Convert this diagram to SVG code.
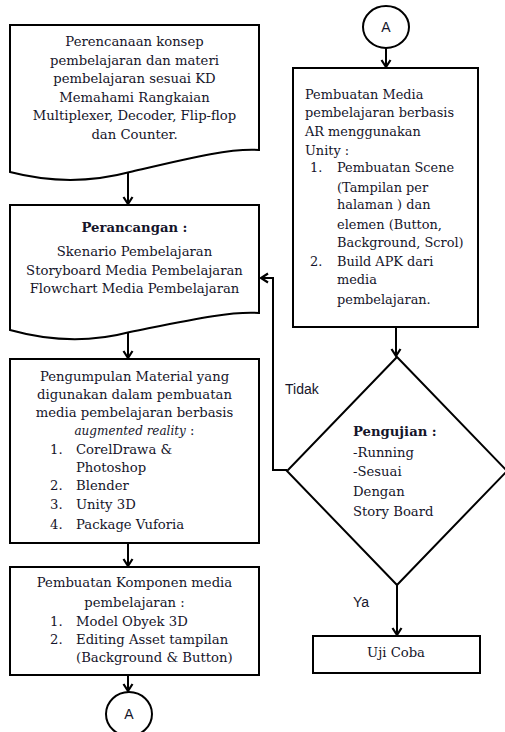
<svg xmlns="http://www.w3.org/2000/svg" width="505" height="732" viewBox="0 0 505 732">
<style>
.shape{fill:#fff;stroke:#000;stroke-width:2}
.t{font-family:"DejaVu Serif","Liberation Serif",serif;font-size:13.2px;fill:#15152a}
.r{font-size:12.9px}
.c{text-anchor:middle}
.b{font-weight:bold}
.s{font-family:"Liberation Sans",Arial,sans-serif;font-size:14px;fill:#15152a}
.it{font-style:italic;font-size:12px}
.conn{fill:none;stroke:#000;stroke-width:2}
</style>
<defs>
<marker id="arr" markerUnits="userSpaceOnUse" markerWidth="12" markerHeight="12" refX="9" refY="6" orient="auto">
<path d="M2,1.5 L9,6 L2,10.5" fill="none" stroke="#000" stroke-width="2.2"/>
</marker>
</defs>
<rect width="505" height="732" fill="#fff"/>

<g id="connectors">
<line class="conn" x1="128" y1="171" x2="128" y2="204" marker-end="url(#arr)"/>
<line class="conn" x1="128" y1="331" x2="128" y2="358" marker-end="url(#arr)"/>
<line class="conn" x1="128" y1="543" x2="128" y2="566" marker-end="url(#arr)"/>
<line class="conn" x1="128" y1="675" x2="128" y2="691" marker-end="url(#arr)"/>
<line class="conn" x1="386" y1="48" x2="386" y2="67" marker-end="url(#arr)"/>
<line class="conn" x1="396" y1="327" x2="396" y2="356" marker-end="url(#arr)"/>
<line class="conn" x1="397" y1="585" x2="397" y2="635" marker-end="url(#arr)"/>
<polyline class="conn" points="287,470 273,470 273,278 261,278" marker-end="url(#arr)"/>
<text class="s" x="285" y="394">Tidak</text>
<text class="s" x="353" y="607">Ya</text>
</g>

<g id="n1">
<path class="shape" d="M10,25 H259 V150 C230,148 190,158 130,172 C100,180 60,185 10,172 Z"/>
<text class="t c" x="134.5" y="46">Perencanaan konsep</text>
<text class="t c" x="134.5" y="64.6">pembelajaran dan materi</text>
<text class="t c" x="134.5" y="83.2">pembelajaran sesuai KD</text>
<text class="t c" x="134.5" y="101.8">Memahami Rangkaian</text>
<text class="t c" x="134.5" y="120.4">Multiplexer, Decoder, Flip-flop</text>
<text class="t c" x="134.5" y="139">dan Counter.</text>
</g>

<g id="n2">
<path class="shape" d="M10,205 H259 V313 C230,311 190,320 130,332 C100,340 60,344 10,330 Z"/>
<text class="t c b" x="134.5" y="232">Perancangan :</text>
<text class="t c" x="134.5" y="256">Skenario Pembelajaran</text>
<text class="t c" x="134.5" y="274.5">Storyboard Media Pembelajaran</text>
<text class="t c" x="134.5" y="293">Flowchart Media Pembelajaran</text>
</g>

<g id="n3">
<rect class="shape" x="10" y="359" width="249" height="184"/>
<text class="t c" x="134.5" y="381">Pengumpulan Material yang</text>
<text class="t c" x="134.5" y="399">digunakan dalam pembuatan</text>
<text class="t c" x="134.5" y="417">media pembelajaran berbasis</text>
<text class="t c" x="134.5" y="435"><tspan class="it">augmented reality</tspan> :</text>
<text class="t" x="50" y="454">1.</text><text class="t" x="76" y="454">CorelDrawa &amp;</text>
<text class="t" x="76" y="472">Photoshop</text>
<text class="t" x="50" y="490">2.</text><text class="t" x="76" y="490">Blender</text>
<text class="t" x="50" y="509">3.</text><text class="t" x="76" y="509">Unity 3D</text>
<text class="t" x="50" y="529">4.</text><text class="t" x="76" y="529">Package Vuforia</text>
</g>

<g id="n4">
<rect class="shape" x="10" y="567" width="249" height="108"/>
<text class="t c" x="134.5" y="587">Pembuatan Komponen  media</text>
<text class="t c" x="134.5" y="607">pembelajaran :</text>
<text class="t" x="50" y="626">1.</text><text class="t" x="76" y="626">Model Obyek 3D</text>
<text class="t" x="50" y="644">2.</text><text class="t" x="76" y="644">Editing Asset tampilan</text>
<text class="t" x="76" y="662">(Background  &amp; Button)</text>
</g>

<g id="a_bottom">
<ellipse class="shape" cx="129" cy="714" rx="23" ry="22"/>
<text class="s c" x="129" y="719">A</text>
</g>

<g id="a_top">
<ellipse class="shape" cx="386" cy="27" rx="23" ry="21"/>
<text class="s c" x="386" y="32">A</text>
</g>

<g id="n5">
<rect class="shape" x="293" y="68" width="185" height="259"/>
<text class="t r" x="305" y="99">Pembuatan Media</text>
<text class="t r" x="305" y="117">pembelajaran berbasis</text>
<text class="t r" x="305" y="136">AR menggunakan</text>
<text class="t r" x="305" y="155">Unity :</text>
<text class="t r" x="310" y="172">1.</text><text class="t r" x="337" y="172">Pembuatan Scene</text>
<text class="t r" x="337" y="192">(Tampilan per</text>
<text class="t r" x="337" y="209">halaman ) dan</text>
<text class="t r" x="337" y="229">elemen (Button,</text>
<text class="t r" x="337" y="247">Background, Scrol)</text>
<text class="t r" x="310" y="266">2.</text><text class="t r" x="337" y="266">Build APK dari</text>
<text class="t r" x="337" y="284">media</text>
<text class="t r" x="337" y="304">pembelajaran.</text>
</g>

<g id="decision">
<polygon class="shape" points="397,357 507,471 397,585 287,471"/>
<text class="t b" x="353" y="436">Pengujian :</text>
<text class="t" x="353" y="457">-Running</text>
<text class="t" x="353" y="476">-Sesuai</text>
<text class="t" x="353" y="496">Dengan</text>
<text class="t" x="353" y="516">Story Board</text>
</g>

<g id="n6">
<rect class="shape" x="313" y="636" width="167" height="37"/>
<text class="t c" x="396" y="657">Uji Coba</text>
</g>
</svg>
